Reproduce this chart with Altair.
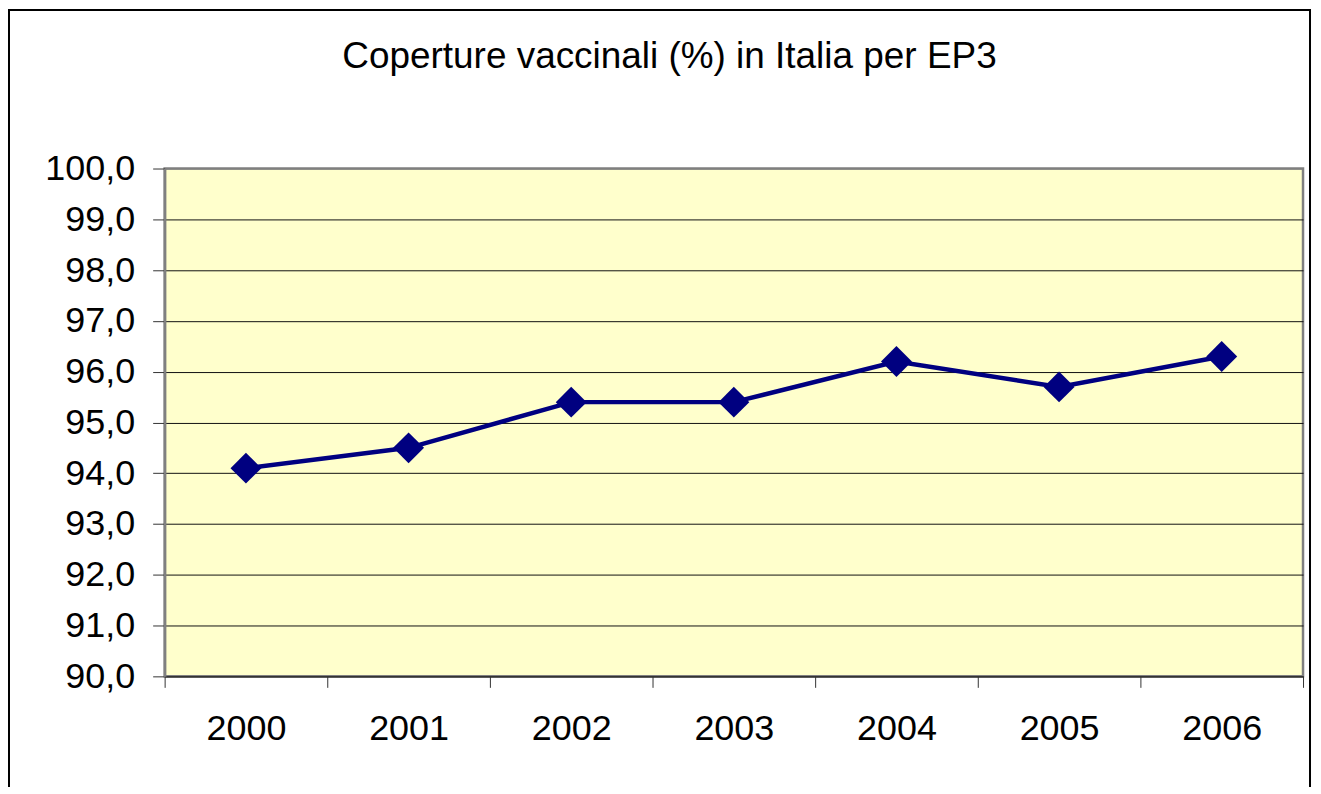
import altair as alt
import pandas as pd

years = ["2000", "2001", "2002", "2003", "2004", "2005", "2006"]
values = [94.1, 94.5, 95.4, 95.4, 96.2, 95.7, 96.3]
y_ticks = [90, 91, 92, 93, 94, 95, 96, 97, 98, 99, 100]
title_text = ["Coperture vaccinali (%) in Italia per EP3"]

df = pd.DataFrame({"year": years, "value": values})
tdf = pd.DataFrame({"t": title_text})

FONT = "Liberation Sans"
NAVY = "#000080"

x_enc = alt.X(
    "year:O",
    sort=years,
    bandPosition=0.5,
    scale=alt.Scale(type="band", paddingInner=0, paddingOuter=0),
    axis=alt.Axis(
        title=None, labelAngle=0, tickBand="extent", grid=False,
        labelFont=FONT, labelFontSize=36, labelColor="black",
        tickSize=11, tickColor="#333333", tickWidth=1,
        domainColor="#333333", domainWidth=1.5, labelPadding=24,
    ),
)
y_enc = alt.Y(
    "value:Q",
    scale=alt.Scale(domain=[90, 100], nice=False, zero=False),
    axis=alt.Axis(
        title=None, values=y_ticks,
        labelExpr="replace(format(datum.value, '.1f'), '.', ',')",
        labelFont=FONT, labelFontSize=36, labelColor="black",
        tickSize=12, tickColor="#333333", tickWidth=1,
        domainColor="#808080", domainWidth=2.5, labelPadding=18,
        grid=True,
        gridColor={"condition": {"test": "datum.value >= 100", "value": "#808080"}, "value": "#111111"},
        gridWidth=1,
    ),
)

line = alt.Chart(df).mark_line(color=NAVY, strokeWidth=4.5).encode(x=x_enc, y=y_enc)
pts = alt.Chart(df).mark_point(shape="diamond", filled=True, color=NAVY, size=960, opacity=1).encode(x=x_enc, y=y_enc)

title = alt.Chart(tdf).mark_text(
    font=FONT, fontSize=37, align="center", baseline="alphabetic", color="black"
).encode(text="t:N", x=alt.value(506), y=alt.value(-101))

border = alt.Chart(tdf).mark_rect(
    fillOpacity=0, stroke="black", strokeWidth=2
).encode(x=alt.value(-156), x2=alt.value(1148), y=alt.value(-159), y2=alt.value(660))

chart = alt.layer(border, line, pts, title).properties(
    width=1141, height=509,
    autosize=alt.AutoSizeParams(type="none"),
    padding={"left": 157, "top": 160, "right": 10, "bottom": 110},
    background="white",
).configure_view(
    fill="#FFFFCC", stroke="#808080", strokeWidth=2.5,
)

chart.save("out.html", embed_options={"renderer": "svg", "actions": False})
